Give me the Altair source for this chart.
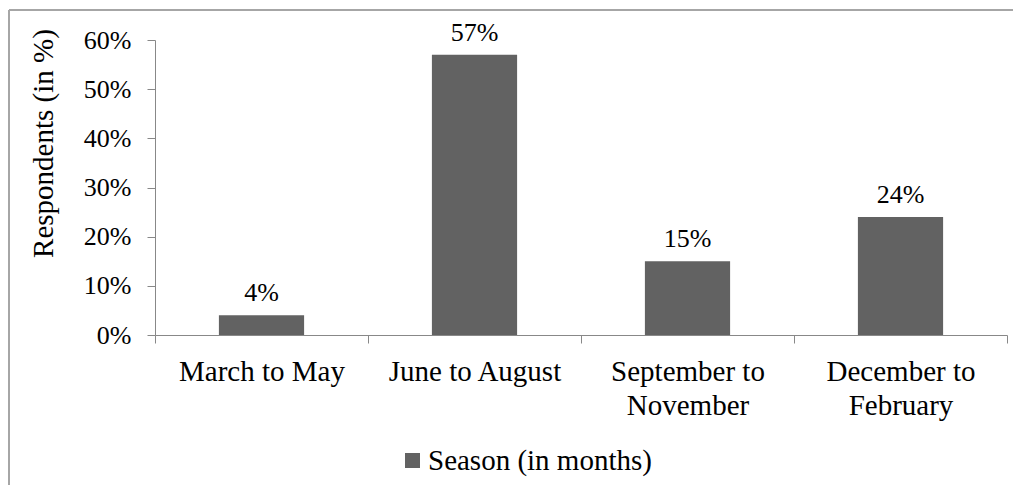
import altair as alt
import pandas as pd

categories = ["March to May", "June to August", "September to|November", "December to|February"]
values = [0.04, 0.57, 0.15, 0.24]
value_labels = ["4%", "57%", "15%", "24%"]
series_name = "Season (in months)"

df = pd.DataFrame({
    "cat": categories,
    "val": values,
    "lbl": value_labels,
    "series": [series_name] * len(categories),
})

W, H = 852, 295
FONT = "Liberation Serif"
BORDER = "#a6a6a6"

x = alt.X(
    "cat:N",
    sort=categories,
    scale=alt.Scale(paddingInner=0, paddingOuter=0),
    axis=alt.Axis(
        title=None,
        labelAngle=0,
        labelFont=FONT,
        labelFontSize=29,
        labelColor="black",
        labelExpr="split(datum.label, '|')",
        labelLineHeight=34,
        labelPadding=14,
        labelBaseline="top",
        tickBand="extent",
        tickSize=8,
        tickColor="#888888",
        domainColor="#888888",
        labelLimit=300,
    ),
)

y = alt.Y(
    "val:Q",
    scale=alt.Scale(domain=[0, 0.6], nice=False),
    axis=alt.Axis(
        values=[0, 0.1, 0.2, 0.3, 0.4, 0.5, 0.6],
        format=".0%",
        grid=False,
        title="Respondents (in %)",
        titleFont=FONT,
        titleFontSize=29,
        titleFontWeight="normal",
        titleColor="black",
        titleX=-112,
        titleY=103,
        titleBaseline="middle",
        titleAngle=270,
        labelFont=FONT,
        labelFontSize=26,
        labelColor="black",
        labelPadding=16,
        tickSize=8,
        tickColor="#888888",
        domainColor="#888888",
    ),
)

bars = alt.Chart(df).mark_bar(width=alt.RelativeBandSize(0.4)).encode(
    x=x,
    y=y,
    color=alt.Color(
        "series:N",
        scale=alt.Scale(range=["#626262"]),
        legend=alt.Legend(
            title=None,
            orient="none",
            legendX=243,
            legendY=406,
            symbolType="square",
            symbolSize=225,
            symbolStrokeWidth=0,
            labelFont=FONT,
            labelFontSize=29,
            labelColor="black",
            labelOffset=1,
            padding=0,
            labelLimit=400,
        ),
    ),
)

text = alt.Chart(df).mark_text(
    font=FONT, fontSize=26, color="black", baseline="alphabetic", dy=-14
).encode(
    x=alt.X("cat:N", sort=categories),
    y="val:Q",
    text="lbl:N",
)

border_left = alt.Chart(df).mark_rule(color=BORDER, strokeWidth=2).encode(
    x=alt.value(-146),
    y=alt.value(-30),
    y2=alt.value(H + 200),
)
border_top = alt.Chart(df).mark_rule(color=BORDER, strokeWidth=2).encode(
    x=alt.value(-146),
    x2=alt.value(W + 40),
    y=alt.value(-30),
)

chart = alt.layer(border_left, border_top, bars, text).properties(
    width=W,
    height=H,
    background="white",
    autosize=alt.AutoSizeParams(type="none"),
    padding={"left": 147, "top": 32, "right": 6, "bottom": 150},
).configure_view(stroke="transparent", strokeWidth=0)

chart.save("out.html", embed_options={"renderer": "svg", "actions": False})
